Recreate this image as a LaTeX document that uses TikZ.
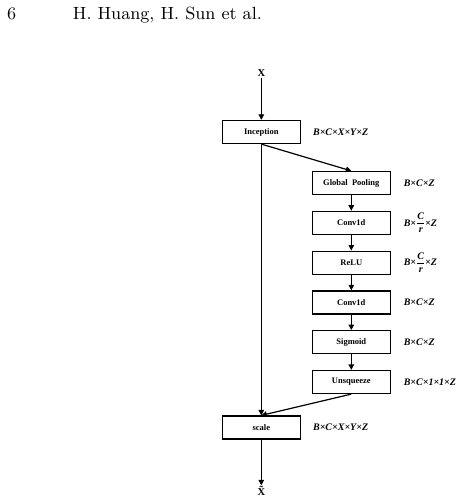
\documentclass[tikz,border=0pt]{standalone}
\usepackage{fontspec}
\usepackage{amsmath}
\usepackage{graphicx}
\usetikzlibrary{positioning,arrows.meta}
\newfontfamily\tnr{Liberation Serif}

\tikzset{
  blk/.style={draw, line width=1.2pt, minimum width=78pt, minimum height=23pt,
    inner sep=0pt, font=\tnr\bfseries\fontsize{8.5}{10}\selectfont},
  dims/.style={anchor=west, inner sep=0pt, font=\tnr\bfseries\itshape\fontsize{10}{12}\selectfont},
  sig/.style={inner sep=1pt, font=\tnr\bfseries\fontsize{10.5}{12}\selectfont},
  runhd/.style={anchor=base west, inner sep=0pt},
  flow/.style={line width=1.2pt, -{Triangle[length=5.5pt,width=5.5pt]}},
}
\newcommand{\hdtext}[1]{\scalebox{1.96}{\fontsize{9}{11}\selectfont #1}}
\newcommand{\redratio}{\(\dfrac{\mbox{C}}{\mbox{r}}\)}

\begin{document}
\begin{tikzpicture}[x=1pt,y=1pt]
    \useasboundingbox (0,0) rectangle (470,-502);
    \node[runhd] (pnum) at (7,-20) {\hdtext{6}};
    \node[runhd] (runhead) at (72.7,-20) {\hdtext{H. Huang, H. Sun et al.}};

    \node[sig] (xin) at (261.3,-73) {X};
    \node[blk] (incep) at (261.3,-132) {Inception};
    \node[blk] (pool) at (351.3,-183) {Global\ \ Pooling};
    \node[blk, below=15.6pt of pool] (conva) {Conv1d};
    \node[blk, below=15.6pt of conva] (relu) {ReLU};
    \node[blk, below=15.6pt of relu] (convb) {Conv1d};
    \node[blk, below=15.6pt of convb] (sigm) {Sigmoid};
    \node[blk, below=15.6pt of sigm] (unsq) {Unsqueeze};
    \node[blk] (scale) at (261.3,-427.5) {scale};
    \node[sig] (xout) at (261.3,-491) {\~{X}};

    \node[dims, right=12pt of incep] {B×C×X×Y×Z};
    \node[dims, right=12.7pt of pool] {B×C×Z};
    \node[dims, right=12.7pt of conva] {B×\redratio×Z};
    \node[dims, right=12.7pt of relu] {B×\redratio×Z};
    \node[dims, right=12.7pt of convb] {B×C×Z};
    \node[dims, right=12.7pt of sigm] {B×C×Z};
    \node[dims, right=12.7pt of unsq] {B×C×1×1×Z};
    \node[dims, right=12pt of scale] {B×C×X×Y×Z};

    \draw[flow] (xin) -- (incep);
    \draw[flow] (incep.south) -- (pool.north);
    \foreach \a/\b in {pool/conva, conva/relu, relu/convb, convb/sigm, sigm/unsq}
      \draw[flow] (\a) -- (\b);
    \draw[flow] (incep) -- (scale);
    \draw[flow] (unsq.south) -- (scale.north);
    \draw[flow] (scale) -- (xout);
\end{tikzpicture}
\end{document}
